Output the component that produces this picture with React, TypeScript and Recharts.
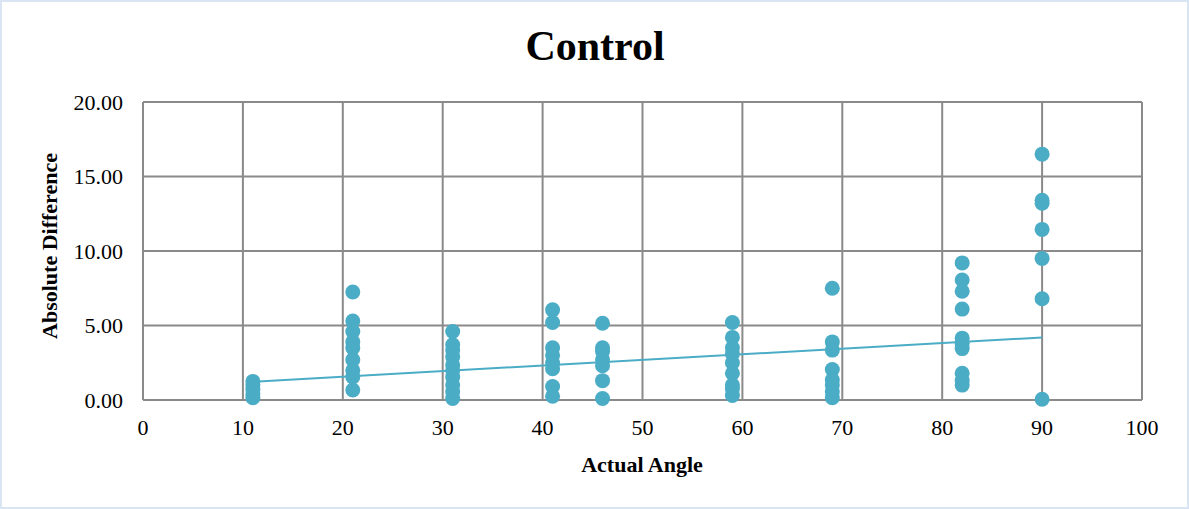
import { ScatterChart, Scatter, XAxis, YAxis, CartesianGrid } from "recharts";

// absolute difference readings, one list per actual angle
const diffs11 = [1.25, 1.0, 0.7, 0.4, 0.15];
const diffs21 = [7.25, 5.3, 4.6, 3.9, 3.5, 2.7, 2.0, 1.55, 0.67];
const diffs31 = [4.6, 3.7, 3.35, 2.9, 2.35, 2.0, 1.55, 1.0, 0.55, 0.1];
const diffs41 = [6.05, 5.2, 3.5, 3.0, 2.5, 2.1, 0.9, 0.25];
const diffs46 = [5.15, 3.5, 3.25, 2.7, 2.3, 1.3, 0.1];
const diffs59 = [5.2, 4.2, 3.5, 3.1, 2.5, 1.8, 1.0, 0.75, 0.3];
const diffs69 = [7.5, 3.9, 3.35, 2.05, 1.35, 1.0, 0.55, 0.15];
const diffs82 = [9.2, 8.05, 7.3, 6.1, 4.15, 3.8, 3.45, 1.8, 1.3, 1.0];
const diffs90 = [16.5, 13.4, 13.2, 11.45, 9.5, 6.8, 0.05];

const angles = [11, 21, 31, 41, 46, 59, 69, 82, 90];
const diffsByAngle = [diffs11, diffs21, diffs31, diffs41, diffs46, diffs59, diffs69, diffs82, diffs90];

// linear trendline end points
const trendX = [11, 90];
const trendY = [1.22, 4.2];

const xTicks = [0, 10, 20, 30, 40, 50, 60, 70, 80, 90, 100];
const yTicks = [0, 5, 10, 15, 20];

const points = angles.flatMap((a, i) => diffsByAngle[i].map((d) => ({ x: a, y: d })));
const trend = trendX.map((x, i) => ({ x, y: trendY[i] }));

const COLOR = "#4bacc6";
const GRID = "#8a8a8a";
const FONT = '"Liberation Serif", "Times New Roman", serif';

const Dot = (props: any) => <circle cx={props.cx} cy={props.cy} r={7.5} fill={COLOR} />;

export default function App() {
  return (
    <div style={{ position: "absolute", left: 0, top: 0, width: 1189, height: 509, background: "#fff" }}>
      <div
        style={{
          position: "absolute",
          inset: 0,
          border: "2px solid #dae5f3",
          boxSizing: "border-box",
        }}
      />
      <ScatterChart
        width={1189}
        height={509}
        margin={{ top: 102, right: 47, left: 43, bottom: 49 }}
        style={{ position: "absolute", left: 0, top: 0 }}
      >
        <CartesianGrid stroke={GRID} strokeWidth={2} />
        <XAxis
          type="number"
          dataKey="x"
          domain={[0, 100]}
          ticks={xTicks}
          height={60}
          axisLine={false}
          tickLine={false}
          tickSize={0}
          tickMargin={19}
          interval={0}
          tick={{ fill: "#000", fontSize: 22, fontFamily: FONT }}
        />
        <YAxis
          type="number"
          dataKey="y"
          domain={[0, 20]}
          ticks={yTicks}
          width={100}
          axisLine={false}
          tickLine={false}
          tickSize={0}
          tickMargin={20}
          interval={0}
          tickFormatter={(v: number) => v.toFixed(2)}
          tick={{ fill: "#000", fontSize: 22, fontFamily: FONT }}
        />
        <Scatter data={points} shape={Dot} isAnimationActive={false} />
        <Scatter
          data={trend}
          line={{ stroke: COLOR, strokeWidth: 2 }}
          shape={() => <g />}
          isAnimationActive={false}
        />
      </ScatterChart>
      <svg
        width={1189}
        height={509}
        style={{ position: "absolute", left: 0, top: 0, pointerEvents: "none" }}
      >
        <text x={595} y={60} textAnchor="middle" fontFamily={FONT} fontWeight="bold" fontSize={42} fill="#000">
          Control
        </text>
        <text
          x={57}
          y={246}
          transform="rotate(-90 57 246)"
          textAnchor="middle"
          fontFamily={FONT}
          fontWeight="bold"
          fontSize={22}
          fill="#000"
        >
          Absolute Difference
        </text>
        <text x={642} y={472} textAnchor="middle" fontFamily={FONT} fontWeight="bold" fontSize={22} fill="#000">
          Actual Angle
        </text>
      </svg>
    </div>
  );
}
